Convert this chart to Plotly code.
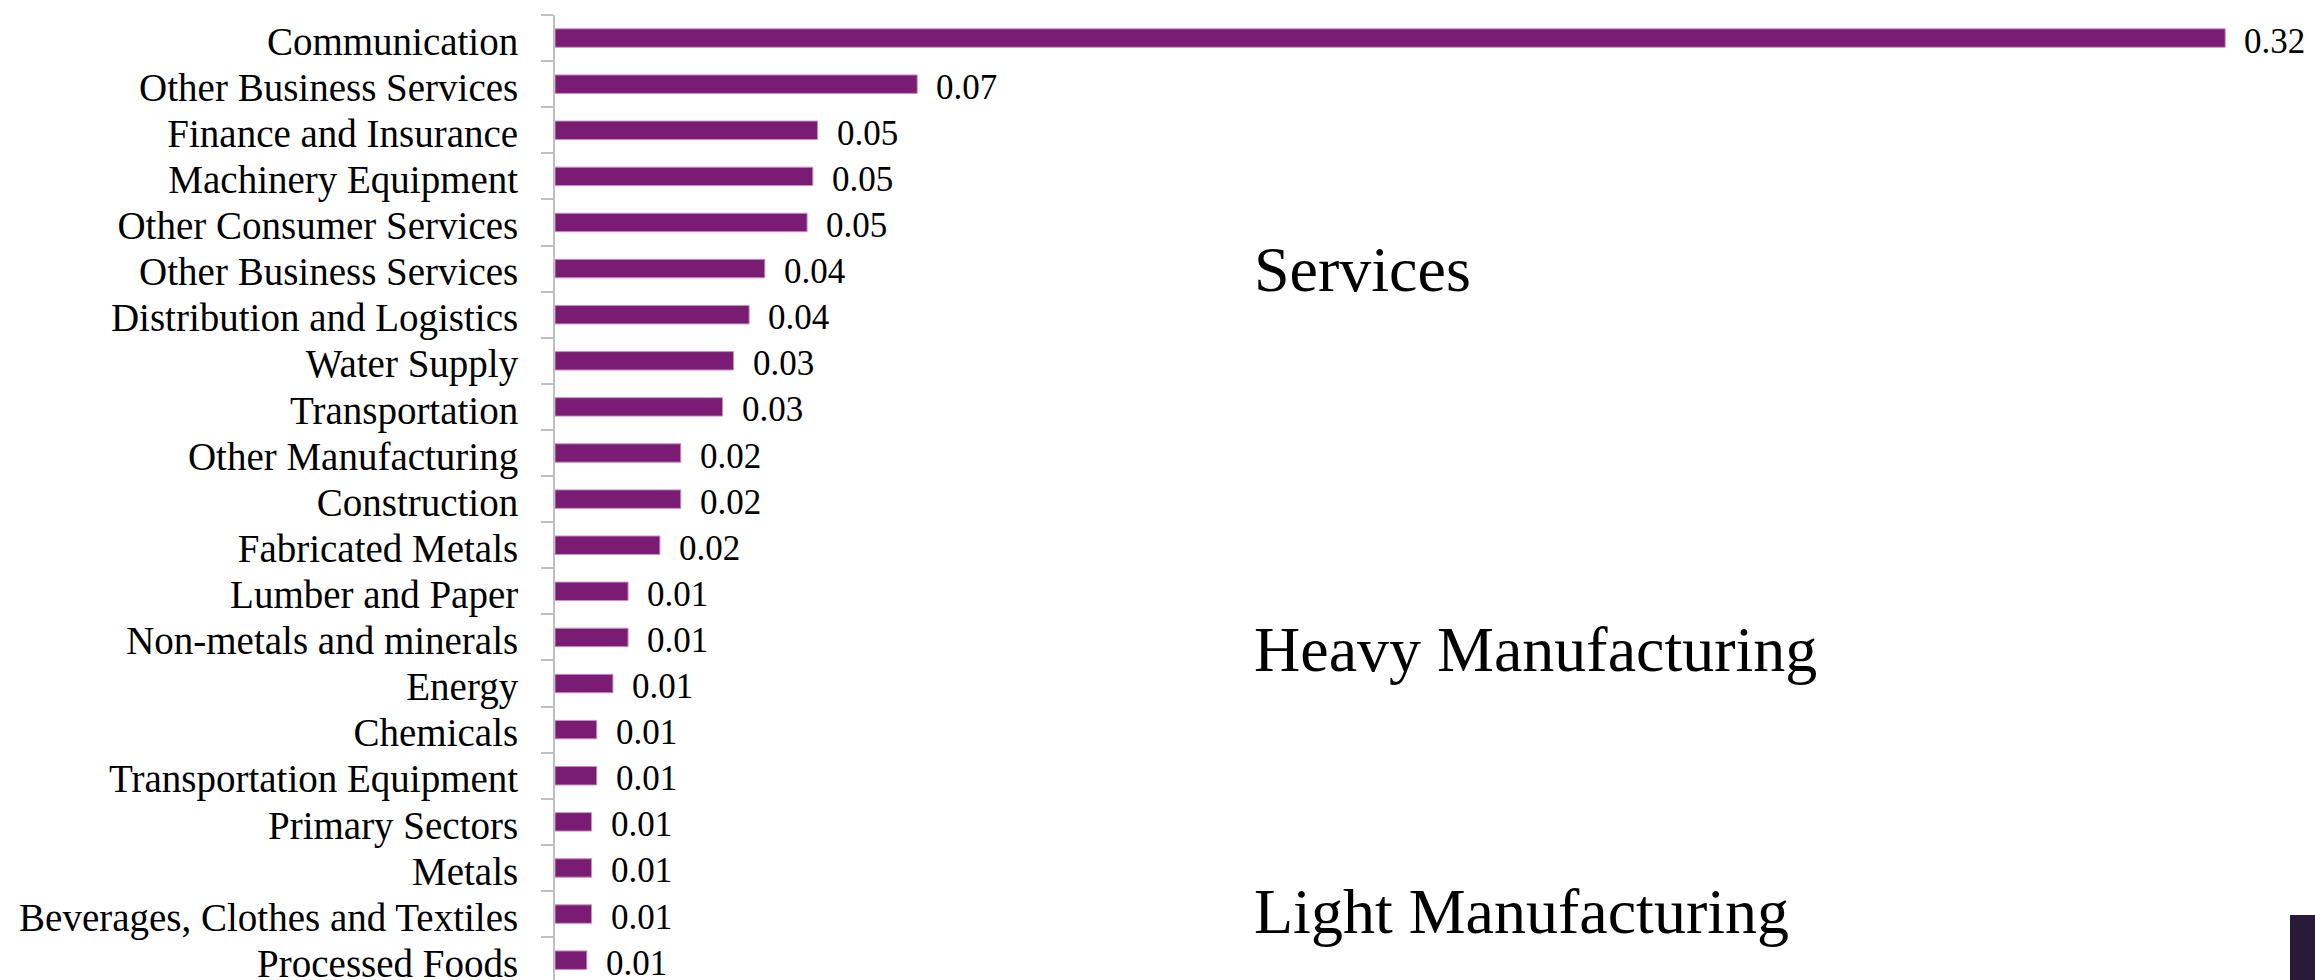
import plotly.graph_objects as go

sectors = [
    "Communication", "Other Business Services", "Finance and Insurance",
    "Machinery Equipment", "Other Consumer Services", "Other Business Services",
    "Distribution and Logistics", "Water Supply", "Transportation",
    "Other Manufacturing", "Construction", "Fabricated Metals",
    "Lumber and Paper", "Non-metals and minerals", "Energy", "Chemicals",
    "Transportation Equipment", "Primary Sectors", "Metals",
    "Beverages, Clothes and Textiles", "Processed Foods",
]
values = [
    0.320, 0.0694, 0.0503, 0.0494, 0.0483, 0.0402,
    0.0372, 0.0342, 0.0321, 0.0241, 0.0241, 0.0201,
    0.0140, 0.0140, 0.0111, 0.0080, 0.0080, 0.0070, 0.0070,
    0.0070, 0.0061,
]
group_labels = ["Services", "Heavy Manufacturing", "Light Manufacturing"]
group_y = [0.736, 0.342, 0.071]

FONT = "Liberation Serif, Times New Roman, serif"
positions = list(range(len(sectors)))

fig = go.Figure()
fig.add_trace(go.Bar(
    x=values, y=positions, orientation="h", width=0.4,
    marker=dict(color="#7A1B74", line=dict(color="#C792C1", width=1)),
    hoverinfo="skip", showlegend=False,
))

for v, p in zip(values, positions):
    fig.add_annotation(x=v, y=p, xref="x", yref="y", text=f"{v:.2f}",
                       showarrow=False, xanchor="left", yanchor="middle",
                       xshift=17, yshift=-3,
                       font=dict(family=FONT, size=35, color="#000000"))

for t, gy in zip(group_labels, group_y):
    fig.add_annotation(x=0.396, y=gy, xref="paper", yref="paper", text=t,
                       showarrow=False, xanchor="left", yanchor="middle",
                       font=dict(family=FONT, size=64, color="#000000"))

fig.add_shape(type="rect", xref="paper", yref="paper", x0=0.9858, x1=1.0,
              y0=0.0, y1=0.0674, fillcolor="#2A1A3A", line=dict(width=0), layer="above")

fig.update_layout(
    width=2315, height=980,
    margin=dict(l=555, r=0, t=15, b=0, autoexpand=False),
    paper_bgcolor="white", plot_bgcolor="white",
    xaxis=dict(range=[0, 0.3372], visible=False, fixedrange=True),
    yaxis=dict(
        range=[20.43, -0.5], tickmode="array", tickvals=positions, ticktext=sectors,
        ticks="", showgrid=False, zeroline=False,
        showline=True, linecolor="#BFBFBF", linewidth=2,
        tickfont=dict(family=FONT, size=39, color="#000000"),
        ticklabelstandoff=27, ticklabelshift=-3, ticklabeloverflow="allow",
        automargin=False,
        minor=dict(tickmode="linear", tick0=0.5, dtick=1, ticks="outside",
                   ticklen=12, tickwidth=1.5, tickcolor="#BFBFBF", showgrid=False),
    ),
    bargap=0.6,
)

fig.write_html("out.html")
